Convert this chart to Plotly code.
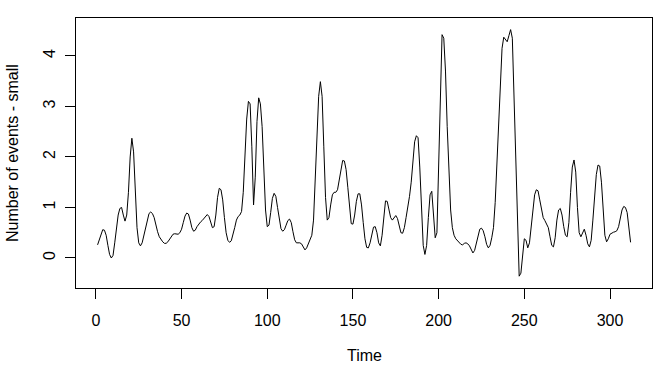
import plotly.graph_objects as go

time = list(range(1, 313))
events_small = [
    0.26, 0.35, 0.48, 0.56, 0.55, 0.45, 0.25, 0.07, 0.00, 0.05,
    0.30, 0.60, 0.85, 0.98, 1.00, 0.85, 0.73, 0.85, 1.30, 2.00,
    2.37, 2.10, 1.30, 0.60, 0.30, 0.24, 0.30, 0.45, 0.62, 0.78,
    0.88, 0.91, 0.88, 0.80, 0.65, 0.52, 0.42, 0.36, 0.32, 0.29,
    0.29, 0.32, 0.37, 0.43, 0.47, 0.48, 0.47, 0.47, 0.50, 0.57,
    0.70, 0.83, 0.89, 0.87, 0.75, 0.60, 0.53, 0.55, 0.62, 0.68,
    0.71, 0.74, 0.78, 0.83, 0.86, 0.82, 0.70, 0.60, 0.62, 0.85,
    1.20, 1.38, 1.35, 1.15, 0.80, 0.50, 0.35, 0.31, 0.34, 0.45,
    0.60, 0.75, 0.82, 0.85, 0.92, 1.30, 2.07, 2.75, 3.10, 3.05,
    2.20, 1.05, 1.60, 2.70, 3.17, 3.05, 2.60, 1.70, 0.95, 0.62,
    0.65, 0.90, 1.18, 1.28, 1.22, 1.00, 0.75, 0.58, 0.53, 0.56,
    0.65, 0.74, 0.77, 0.70, 0.52, 0.36, 0.30, 0.30, 0.30, 0.28,
    0.21, 0.16, 0.20, 0.28, 0.37, 0.45, 0.75, 1.50, 2.40, 3.20,
    3.49, 3.20, 2.20, 1.20, 0.75, 0.80, 1.05, 1.25, 1.30, 1.30,
    1.35, 1.55, 1.80, 1.93, 1.92, 1.75, 1.40, 0.95, 0.68, 0.67,
    0.85, 1.12, 1.27, 1.27, 1.05, 0.70, 0.38, 0.21, 0.20, 0.30,
    0.48, 0.61, 0.62, 0.50, 0.30, 0.24, 0.45, 0.85, 1.13, 1.12,
    0.95, 0.80, 0.75, 0.80, 0.84, 0.78, 0.62, 0.50, 0.49, 0.60,
    0.80, 1.00, 1.22, 1.50, 1.90, 2.30, 2.42, 2.38, 1.80, 0.90,
    0.25, 0.07, 0.25, 0.80, 1.25, 1.32, 0.90, 0.40, 0.50, 1.80,
    3.60, 4.42, 4.35, 3.70, 2.60, 1.60, 0.95, 0.60, 0.45, 0.38,
    0.34, 0.30, 0.27, 0.26, 0.29, 0.30, 0.28, 0.24, 0.15, 0.10,
    0.15, 0.30, 0.47, 0.57, 0.59, 0.54, 0.42, 0.27, 0.20, 0.25,
    0.40, 0.60, 1.10, 1.80, 2.60, 3.50, 4.15, 4.37, 4.33, 4.28,
    4.40, 4.52, 4.35, 3.20, 1.80, 0.50, -0.36, -0.30, 0.10, 0.38,
    0.35, 0.20, 0.30, 0.65, 1.00, 1.25, 1.35, 1.33, 1.15, 0.95,
    0.80, 0.74, 0.68, 0.60, 0.42, 0.25, 0.22, 0.40, 0.75, 0.95,
    0.98, 0.85, 0.62, 0.45, 0.42, 0.70, 1.30, 1.80, 1.94, 1.70,
    1.00, 0.50, 0.42, 0.50, 0.57, 0.45, 0.28, 0.22, 0.35, 0.75,
    1.25, 1.65, 1.84, 1.82, 1.50, 0.90, 0.45, 0.32, 0.38, 0.47,
    0.50, 0.51, 0.52, 0.54, 0.62, 0.78, 0.95, 1.02, 1.00, 0.90,
    0.60, 0.31,
]
x_ticks = [0, 50, 100, 150, 200, 250, 300]
y_ticks = [0, 1, 2, 3, 4]
x_title = "Time"
y_title = "Number of events - small"

FONT = "Liberation Sans, Arial, sans-serif"

fig = go.Figure()
fig.add_trace(go.Scatter(x=time, y=events_small, mode="lines",
                         line=dict(color="black", width=1), showlegend=False))

axis_common = dict(showgrid=False, zeroline=False, showline=True, mirror=True,
                   linecolor="black", linewidth=1, ticks="outside", ticklen=10,
                   tickwidth=1, tickcolor="black",
                   tickfont=dict(family=FONT, size=16, color="black"))

fig.update_xaxes(range=[-11.6, 324.5], tickvals=x_ticks, ticklabelstandoff=8, **axis_common)
fig.update_yaxes(range=[-0.594, 4.75], tickvals=y_ticks, tickangle=-90,
                 ticklabelstandoff=4, **axis_common)

fig.add_annotation(text=x_title, xref="paper", yref="paper", x=0.5, y=0,
                   xanchor="center", yanchor="middle", yshift=-67, showarrow=False,
                   font=dict(family=FONT, size=16, color="black"))
fig.add_annotation(text=y_title, xref="paper", yref="paper", x=0, y=0.5,
                   xanchor="center", yanchor="middle", xshift=-64, textangle=-90,
                   showarrow=False, font=dict(family=FONT, size=16, color="black"))

fig.update_layout(width=672, height=384, plot_bgcolor="white", paper_bgcolor="white",
                  margin=dict(l=76, r=20, t=18, b=96),
                  font=dict(family=FONT, size=16, color="black"))

fig.write_html("out.html")
